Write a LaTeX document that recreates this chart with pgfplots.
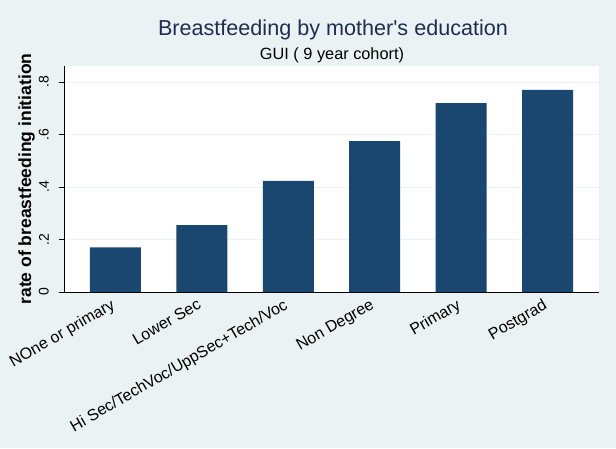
\documentclass[border=0pt]{standalone}
\usepackage{pgfplots}
\pgfplotsset{compat=1.18}
\usepackage{fontspec}
\setmainfont{Liberation Sans}[Ligatures=TeXOff]
\definecolor{bgc}{RGB}{234,242,243}
\definecolor{barc}{RGB}{26,71,111}
\definecolor{titc}{RGB}{30,45,83}
\begin{document}
\begin{tikzpicture}
\fill[bgc, use as bounding box] (0pt,0pt) rectangle (616pt,448pt);
\node[anchor=base, text=titc, font=\fontsize{21.6}{25}\selectfont, inner sep=0pt] at (333pt,412pt) {Breastfeeding by mother's education};
\node[anchor=base, text=black, font=\fontsize{16.3}{19}\selectfont, inner sep=0pt] at (332pt,388pt) {GUI ( 9 year cohort)};
\begin{axis}[
  at={(64pt,156pt)}, anchor=south west,
  scale only axis, width=535pt, height=226pt,
  xmin=-0.595, xmax=5.595, ymin=0, ymax=0.861,
  axis background/.style={fill=white},
  axis lines=left,
  axis line style={-, black, line width=0.9pt},
  ytick={0,0.2,0.4,0.6,0.8},
  yticklabels={0,.2,.4,.6,.8},
  ymajorgrids,
  grid style={bgc, line width=0.9pt},
  tick align=outside,
  major tick length=4.5pt,
  ytick style={black, line width=0.8pt},
  xtick={0,1,2,3,4,5},
  xtick style={draw=none},
  xticklabels={NOne or primary,Lower Sec,Hi Sec/TechVoc/UppSec+Tech/Voc,Non Degree,Primary,Postgrad},
  xticklabel style={xshift=-5pt, yshift=0pt, rotate=30, anchor=north east, font=\fontsize{16}{18}\selectfont, inner sep=1pt},
  yticklabel style={xshift=-10.5pt, rotate=90, anchor=south, font=\fontsize{14}{16}\selectfont, inner sep=0pt},
  ylabel={\textbf{rate of breastfeeding initiation}},
  ylabel style={at={(axis description cs:-0.054,0.5)}, anchor=south, inner sep=0pt, font=\fontsize{17.5}{20}\selectfont},
  /pgf/number format/assume math mode=true,
]
\addplot[ybar, bar width=51pt, fill=barc, draw=none] coordinates {
  (0,0.170) (1,0.255) (2,0.423) (3,0.575) (4,0.720) (5,0.770)
};
\end{axis}
\end{tikzpicture}
\end{document}
